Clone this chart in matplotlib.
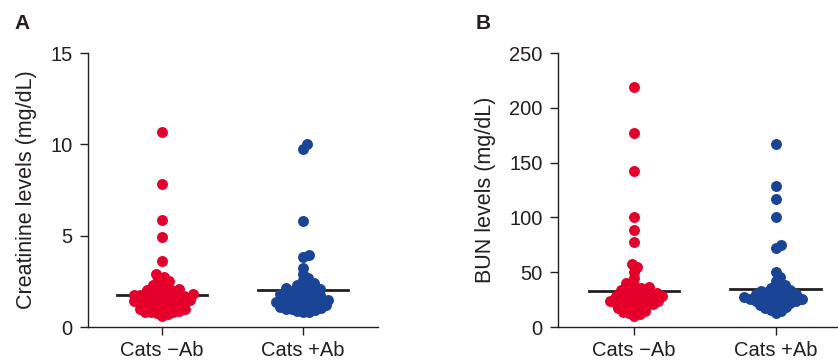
import numpy as np
import matplotlib.pyplot as plt

plt.rcParams['font.family'] = ['Liberation Sans', 'DejaVu Sans']

groups = ['Cats \u2212Ab', 'Cats +Ab']
red = '#E4002B'
blue = '#1A4496'
txt = '#231F20'

# creatinine (mg/dL)
creat_neg = [10.7, 7.85, 5.85, 4.95, 3.6, 2.9, 2.75, 2.6, 2.5, 2.4, 2.3, 2.2, 2.15, 2.1,
             2.05, 2.0, 1.95, 1.9, 1.85, 1.8, 1.8, 1.75, 1.75, 1.7, 1.7, 1.65, 1.6, 1.6,
             1.55, 1.5, 1.5, 1.45, 1.4, 1.4, 1.35, 1.3, 1.3, 1.25, 1.2, 1.2, 1.1, 1.1,
             1.0, 1.0, 0.95, 0.9, 0.85, 0.8, 0.8, 0.75, 0.7, 0.6]
creat_pos = [10.0, 9.75, 5.8, 3.95, 3.85, 3.25, 2.9, 2.7, 2.55, 2.4, 2.3, 2.25, 2.2, 2.15,
             2.1, 2.05, 2.0, 1.95, 1.9, 1.85, 1.8, 1.8, 1.75, 1.7, 1.65, 1.6, 1.55, 1.5,
             1.5, 1.45, 1.4, 1.35, 1.3, 1.3, 1.25, 1.2, 1.2, 1.15, 1.1, 1.05, 1.0, 1.0,
             0.95, 0.9, 0.85, 0.8]
creat_mid = [1.75, 2.02]

# BUN (mg/dL)
bun_neg = [219, 177, 142, 100.5, 89, 77.5, 57.5, 55, 50.5, 45, 40, 38, 37, 36, 35, 34,
           33, 32, 31, 30, 30, 29, 28, 28, 27, 27, 26, 25, 25, 24, 24, 23, 22, 22, 21,
           20, 20, 19, 18, 17, 16, 15, 14, 13, 12, 10]
bun_pos = [167, 129, 116.5, 100.5, 74.5, 72.5, 50, 46, 42, 38, 36, 35, 34, 33, 32, 32,
           31, 30, 30, 29, 28, 28, 27, 27, 26, 26, 25, 25, 24, 24, 23, 22, 22, 21, 20,
           19, 18, 17, 16, 15, 13]
bun_mid = [32.8, 34.7]


def swarm(vals, ypx, d):
    vals = np.asarray(vals, float)
    order = np.argsort(vals)
    placed = []
    xs = np.zeros(len(vals))
    for i in order:
        y = vals[i] * ypx
        cands = [0.0]
        for px, py in placed:
            dy = abs(y - py)
            if dy < d:
                dx = np.sqrt(d * d - dy * dy)
                cands += [px + dx, px - dx]
        cands.sort(key=abs)
        for c in cands:
            if all((c - px) ** 2 + (y - py) ** 2 >= d * d - 1e-6 for px, py in placed):
                xs[i] = c
                break
        placed.append((xs[i], y))
    return xs


fig = plt.figure(figsize=(8.38, 3.61), dpi=100)


def panel(rect, data, mids, ymax, step, xlim, ylabel, letter, lx):
    ax = fig.add_axes(rect)
    xpx = rect[2] * 838 / (xlim[1] - xlim[0])
    ypx = rect[3] * 361 / ymax
    for k, (vals, col) in enumerate(zip(data, [red, blue])):
        off = swarm(vals, ypx, 6.0) / xpx
        ax.plot([k - 0.32, k + 0.32], [mids[k], mids[k]], color=txt, lw=2, zorder=2)
        ax.scatter(k + off, vals, s=62, color=col, linewidths=0, zorder=3, clip_on=False)
    ax.set_xlim(*xlim)
    ax.set_ylim(0, ymax)
    ax.set_yticks(np.arange(0, ymax + 1, step))
    ax.set_xticks([0, 1])
    ax.set_xticklabels(groups)
    for s in ['top', 'right']:
        ax.spines[s].set_visible(False)
    for s in ['left', 'bottom']:
        ax.spines[s].set_color(txt)
        ax.spines[s].set_linewidth(1)
    ax.tick_params(axis='both', colors=txt, labelsize=14.5, length=6, width=1, pad=4)
    ax.tick_params(axis='y', pad=5)
    ax.set_ylabel(ylabel, fontsize=15.5, color=txt, labelpad=10)
    fig.text(lx, 0.935, letter, fontsize=15, fontweight='bold', color=txt, ha='left', va='center')
    return ax


panel([0.105, 0.094, 0.346, 0.759], [creat_neg, creat_pos], creat_mid, 15, 5,
      (-0.525, 1.53), 'Creatinine levels (mg/dL)', 'A', 14 / 838)
panel([0.666, 0.094, 0.334, 0.759], [bun_neg, bun_pos], bun_mid, 250, 50,
      (-0.535, 1.44), 'BUN levels (mg/dL)', 'B', 476 / 838)

fig.savefig('out.png', dpi=100)
